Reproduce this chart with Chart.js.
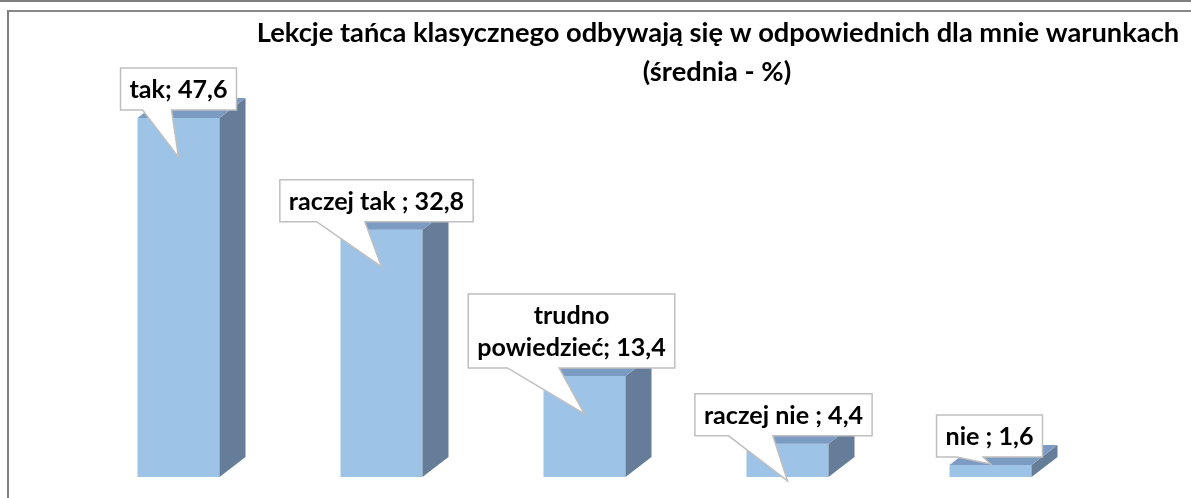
<!DOCTYPE html>
<html>
<head>
<meta charset="utf-8">
<script src="https://cdn.jsdelivr.net/npm/chart.js@4.4.1/dist/chart.umd.min.js"></script>
<style>
  html, body { margin: 0; padding: 0; background: #fff; overflow: hidden; }
  #wrap { position: relative; width: 1191px; height: 498px; }
  .topline { position: absolute; left: 0; top: 0; width: 1191px; height: 2px; background: #7f7f7f; }
  .frame { position: absolute; left: 7px; top: 10px; width: 1200px; height: 500px; border-left: 2px solid #7f7f7f; border-top: 2px solid #8a8a8a; }
  canvas { position: absolute; left: 0; top: 0; }
</style>
</head>
<body>
<div id="wrap">
  <div class="topline"></div>
  <div class="frame"></div>
  <canvas id="chart" width="1191" height="498"></canvas>
</div>
<script>
// dane
const categories = [['tak'], ['raczej tak '], ['trudno', 'powiedzieć'], ['raczej nie '], ['nie ']];
const values = [47.6, 32.8, 13.4, 4.4, 1.6];
const titleLines = ['Lekcje tańca klasycznego odbywają się w odpowiednich dla mnie warunkach', '(średnia - %)'];

const FRONT = '#9dc3e6';
const SIDE = '#657d98';
const TOP = '#7b9bc2';
const DEPTH_X = 26, DEPTH_Y = 20;

// przesunięcia dymków (styl)
const calloutDx = [0, -5, -13, -4, -1];
const tailLen = [47, 45, 46, 45, 7];

function fmt(v) {
  return v.toFixed(1).replace('.', ',');
}

// dopasowanie rozmiaru czcionki (Calibri -> Lato)
function fitFont(ctx) {
  ctx.font = 'bold 27px Lato';
  const w = ctx.measureText(titleLines[0]).width;
  return 27 * 923 / w;
}

const bar3d = {
  id: 'bar3d',
  afterDatasetsDraw(chart) {
    const ctx = chart.ctx;
    const meta = chart.getDatasetMeta(0);
    ctx.save();
    meta.data.forEach(el => {
      const { x, y, base, width } = el.getProps(['x', 'y', 'base', 'width'], true);
      const l = x - width / 2, r = x + width / 2;
      // bok
      ctx.fillStyle = SIDE;
      ctx.beginPath();
      ctx.moveTo(r, y);
      ctx.lineTo(r + DEPTH_X, y - DEPTH_Y);
      ctx.lineTo(r + DEPTH_X, base - DEPTH_Y);
      ctx.lineTo(r, base);
      ctx.closePath();
      ctx.fill();
      // góra
      ctx.fillStyle = TOP;
      ctx.beginPath();
      ctx.moveTo(l, y);
      ctx.lineTo(l + DEPTH_X, y - DEPTH_Y);
      ctx.lineTo(r + DEPTH_X, y - DEPTH_Y);
      ctx.lineTo(r, y);
      ctx.closePath();
      ctx.fill();
    });
    ctx.restore();
  }
};

const callouts = {
  id: 'callouts',
  afterDraw(chart) {
    const ctx = chart.ctx;
    const meta = chart.getDatasetMeta(0);
    const fs = fitFont(ctx);
    const lineH = 32, padX = 9, padV = 5;
    ctx.save();
    ctx.font = 'bold ' + (fs * 0.92) + 'px Lato';
    ctx.textAlign = 'center';
    ctx.textBaseline = 'middle';

    meta.data.forEach((el, i) => {
      const { x, y } = el.getProps(['x', 'y'], true);
      const lines = categories[i].slice();
      lines[lines.length - 1] = lines[lines.length - 1] + '; ' + fmt(values[i]);
      const tw = Math.max(...lines.map(s => ctx.measureText(s).width));
      const bw = tw + padX * 2;
      const bh = lines.length * lineH + padV * 2;
      const cx = x + calloutDx[i];
      const bottom = y - 8;
      const top = bottom - bh;
      const left = cx - bw / 2, right = cx + bw / 2;
      const b1 = left + bw * 0.19, b2 = left + bw * 0.44;
      const tipX = x, tipY = bottom + tailLen[i];

      ctx.beginPath();
      ctx.moveTo(left, top);
      ctx.lineTo(right, top);
      ctx.lineTo(right, bottom);
      ctx.lineTo(b2, bottom);
      ctx.lineTo(tipX, tipY);
      ctx.lineTo(b1, bottom);
      ctx.lineTo(left, bottom);
      ctx.closePath();
      ctx.fillStyle = '#ffffff';
      ctx.fill();
      ctx.lineWidth = 1.5;
      ctx.strokeStyle = '#bfbfbf';
      ctx.stroke();

      ctx.fillStyle = '#000000';
      lines.forEach((s, k) => {
        ctx.fillText(s, cx, top + padV + lineH * k + lineH / 2 + 1);
      });
    });

    // tytuł
    ctx.font = 'bold ' + fs + 'px Lato';
    ctx.fillText(titleLines[0], 718, 33);
    ctx.fillText(titleLines[1], 717, 72);
    ctx.restore();
  }
};

new Chart(document.getElementById('chart'), {
  type: 'bar',
  data: {
    labels: categories.map(c => c.join(' ')),
    datasets: [{
      data: values,
      backgroundColor: FRONT,
      borderWidth: 0,
      categoryPercentage: 1,
      barPercentage: 82 / 203
    }]
  },
  options: {
    responsive: false,
    animation: false,
    devicePixelRatio: 1,
    layout: { padding: { left: 77, right: 99, top: 100, bottom: 21 } },
    scales: {
      x: { display: false },
      y: { display: false, min: 0, max: 50 }
    },
    plugins: {
      legend: { display: false },
      tooltip: { enabled: false },
      title: { display: false }
    }
  },
  plugins: [bar3d, callouts]
});
</script>
</body>
</html>
